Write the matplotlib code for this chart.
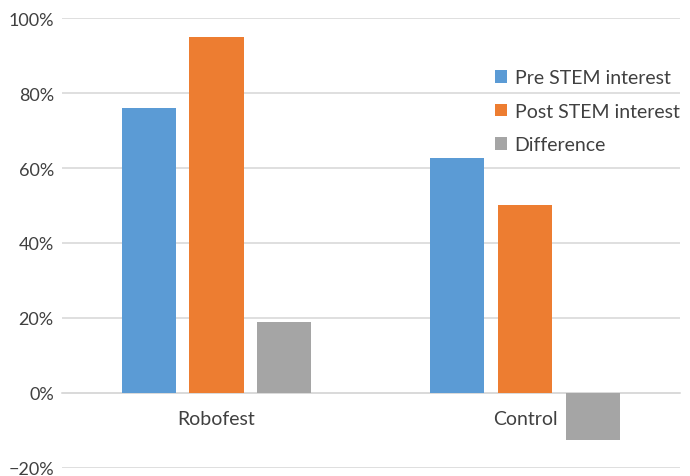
import numpy as np
import matplotlib.pyplot as plt
from matplotlib.ticker import PercentFormatter

plt.rcParams['font.family'] = ['Lato', 'DejaVu Sans']

groups = ["Robofest", "Control"]
series = ["Pre STEM interest", "Post STEM interest", "Difference"]
pre = [76, 62.7]
post = [95, 50.2]
diff = [19, -12.5]
colors = ["#5B9BD5", "#ED7D31", "#A5A5A5"]

fig = plt.figure(figsize=(6.9, 4.77), dpi=100)
ax = fig.add_axes([0.09, 0.017, 0.895, 0.943])

x = np.arange(len(groups))
w = 0.175
for i, (vals, c, lab) in enumerate(zip([pre, post, diff], colors, series)):
    ax.bar(x + (i - 1) * 0.22, vals, w, color=c, label=lab, zorder=3)

ax.set_ylim(-20, 100)
ax.set_xlim(-0.5, 1.5)
ax.set_yticks(np.arange(-20, 101, 20))
ax.yaxis.set_major_formatter(PercentFormatter(decimals=0))
ax.grid(axis='y', color='#D9D9D9', linewidth=1.2, zorder=0)
for s in ['left', 'right', 'top']:
    ax.spines[s].set_visible(False)
ax.spines['bottom'].set_position(('data', 0))
ax.spines['bottom'].set_color('#D9D9D9')
ax.spines['bottom'].set_linewidth(1.2)
ax.set_xticks(x)
ax.set_xticklabels(groups)
ax.tick_params(axis='x', length=0, pad=12, labelsize=14, labelcolor='#404040')
ax.tick_params(axis='y', length=0, pad=6, labelsize=13, labelcolor='#404040')

leg = ax.legend(loc='upper left', bbox_to_anchor=(0.673, 0.925), frameon=False,
                fontsize=14, labelspacing=0.85, handlelength=0.6, handleheight=0.6,
                handletextpad=0.4)
for t in leg.get_texts():
    t.set_color('#404040')

fig.savefig("out.png", dpi=100)
